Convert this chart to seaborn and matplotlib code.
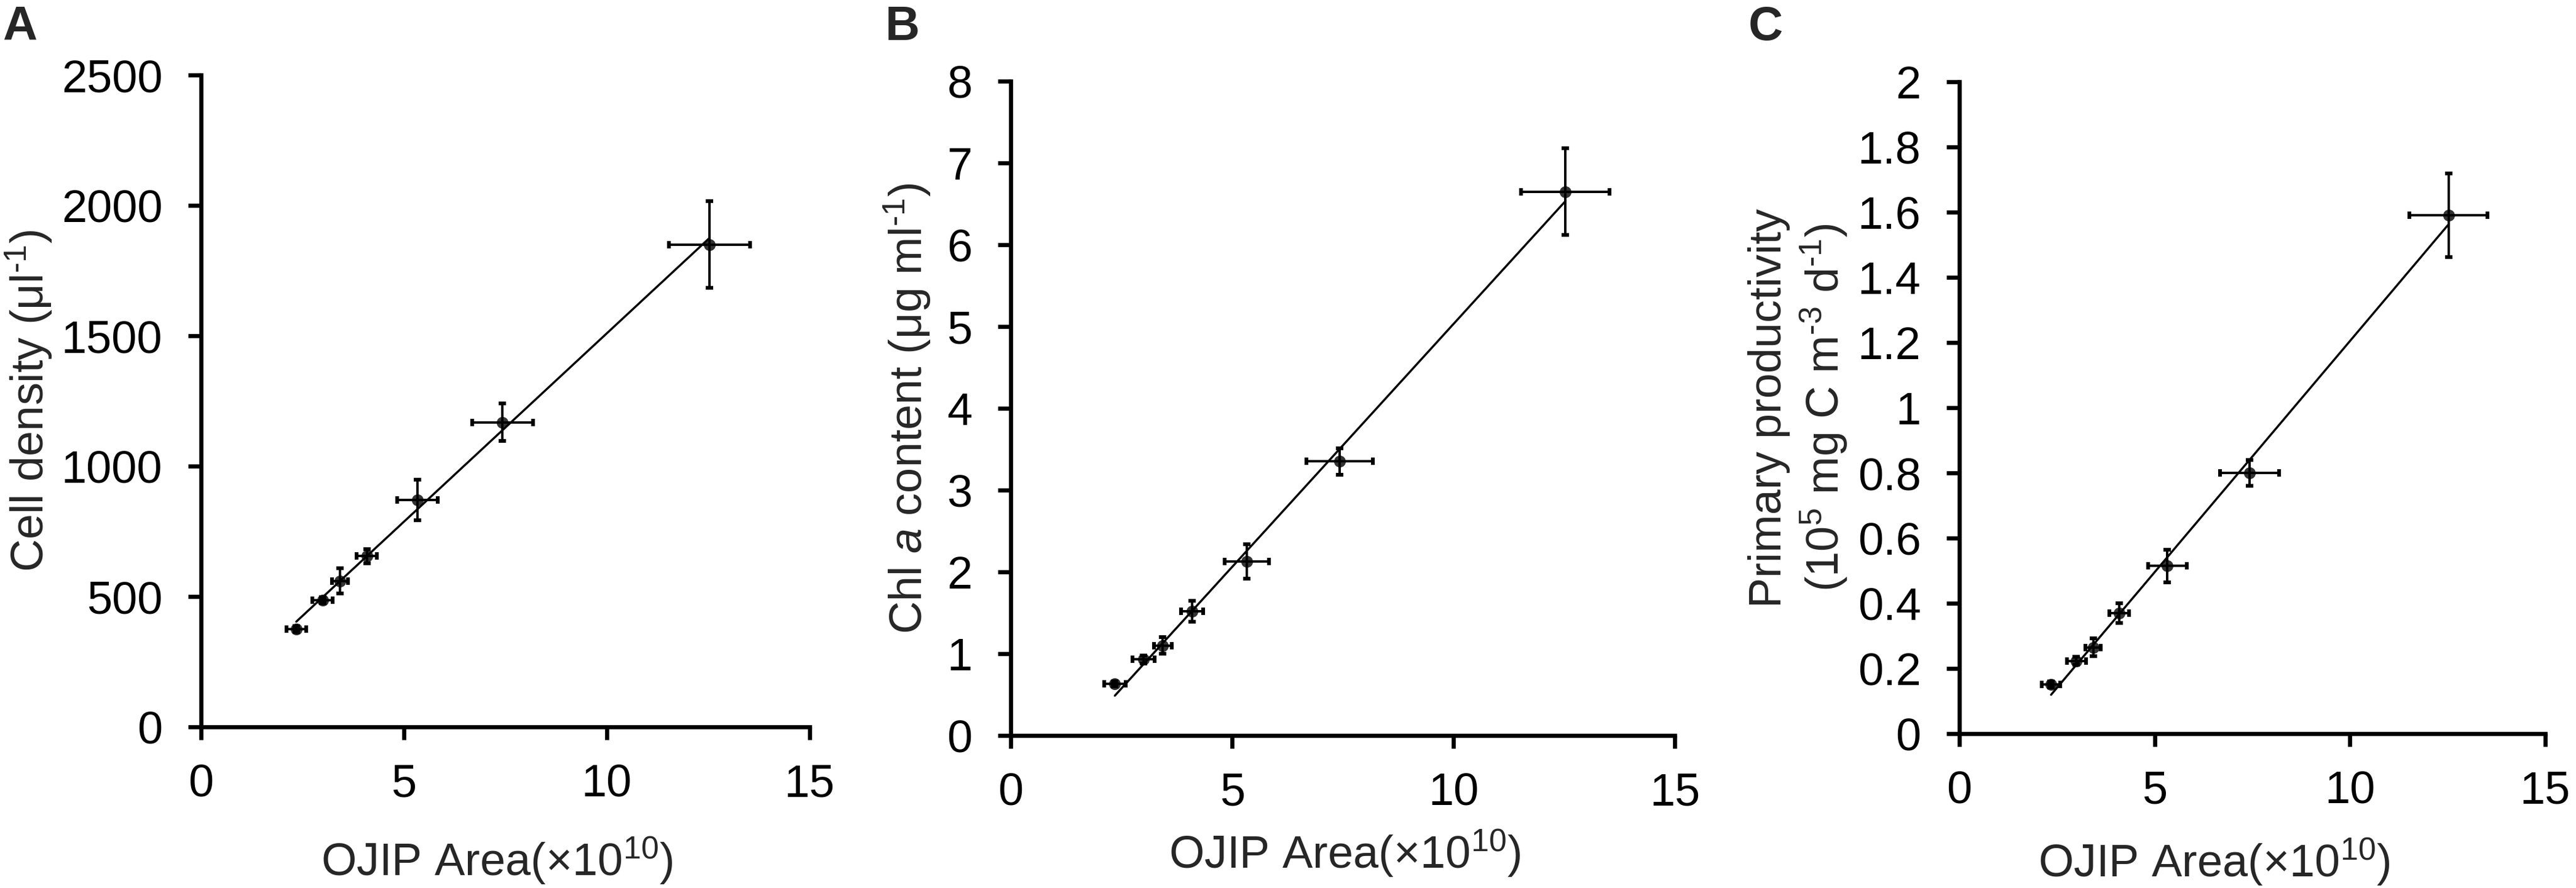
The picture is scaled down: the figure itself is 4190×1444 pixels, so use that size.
import numpy as np
import pandas as pd
import matplotlib
matplotlib.use("Agg")
import matplotlib.pyplot as plt
import seaborn as sns

# OJIP area (x10^10), shared by all three panels
ojip_area = [2.35, 3.0, 3.43, 4.09, 5.33, 7.43, 12.53]
ojip_err = [0.24, 0.25, 0.2, 0.25, 0.5, 0.75, 1.0]

# panel A: cell density (ul-1)
cell_density = [375, 485, 560, 655, 870, 1168, 1850]
cell_density_err = [12, 12, 48, 27, 78, 72, 167]

# panel B: Chl a content (ug ml-1)
chl_a = [0.63, 0.93, 1.10, 1.52, 2.13, 3.35, 6.65]
chl_a_err = [0.03, 0.05, 0.10, 0.13, 0.21, 0.16, 0.53]

# panel C: primary productivity (10^5 mg C m-3 d-1)
productivity = [0.151, 0.223, 0.265, 0.37, 0.515, 0.80, 1.59]
productivity_err = [0.01, 0.012, 0.027, 0.03, 0.05, 0.04, 0.128]

x_ticks = [0, 5, 10, 15]

sns.set_style("ticks")
plt.rcParams['font.family'] = ['Liberation Sans', 'DejaVu Sans']
plt.rcParams['mathtext.fontset'] = 'custom'
plt.rcParams['mathtext.rm'] = 'Liberation Sans'
plt.rcParams['mathtext.it'] = 'Liberation Sans:italic'
plt.rcParams['mathtext.default'] = 'regular'

FS = 26.6

fig = plt.figure(figsize=(20.95, 7.22), dpi=200)

panels = [
    # letter, y values, y errors, y ticks, ylabel, axes rect, ylabel x, xlabel (x, y), letter x
    ("A", cell_density, cell_density_err, [0, 500, 1000, 1500, 2000, 2500],
     "Cell density (μl$^{\\text{-}1}$)",
     [0.0780, 0.1814, 0.2363, 0.7341], -0.241, (0.486, -0.166), 0.001),
    ("B", chl_a, chl_a_err, [0, 1, 2, 3, 4, 5, 6, 7, 8],
     "Chl $\\it{a}$ content (μg ml$^{\\text{-}1}$)",
     [0.3924, 0.1717, 0.2578, 0.7369], -0.118, (0.503, -0.141), 0.3437),
    ("C", productivity, productivity_err, [0, 0.2, 0.4, 0.6, 0.8, 1, 1.2, 1.4, 1.6, 1.8, 2],
     "Primary productivity\n(10$^{5}$ mg C m$^{\\text{-}3}$ d$^{\\text{-}1}$)",
     [0.7606, 0.1738, 0.2274, 0.7341], -0.188, (0.435, -0.158), 0.6788),
]

for letter, yvals, yerrs, yticks, ylabel, rect, ylab_x, xlab_xy, letter_x in panels:
    ax = fig.add_axes(rect)
    df = pd.DataFrame({"x": ojip_area, "y": yvals})
    sns.regplot(data=df, x="x", y="y", ax=ax, ci=None, color="black",
                scatter_kws={"s": 48, "linewidths": 0, "zorder": 3},
                line_kws={"lw": 1.25, "zorder": 2})
    ax.errorbar(ojip_area, yvals, xerr=ojip_err, yerr=yerrs, fmt="none",
                ecolor="black", elinewidth=1.4, capsize=2.0, capthick=2.2, zorder=2)

    ax.set_xlim(0, 15)
    ax.set_ylim(0, yticks[-1])
    ax.set_xticks(x_ticks)
    ax.set_yticks(yticks)
    ax.set_yticklabels([f"{v:g}" for v in yticks])
    sns.despine(ax=ax)
    for s in ["left", "bottom"]:
        ax.spines[s].set_linewidth(2.4)
        ax.spines[s].set_color("black")
    ax.tick_params(axis="both", length=7.5, width=2.4, color="black",
                   labelsize=FS, labelcolor="black")
    ax.tick_params(axis="x", pad=14)
    ax.tick_params(axis="y", pad=15)

    ax.set_xlabel("OJIP Area(×10$^{10}$)", fontsize=FS)
    ax.set_ylabel(ylabel, fontsize=FS, linespacing=1.2)
    ax.xaxis.set_label_coords(*xlab_xy)
    ax.yaxis.set_label_coords(ylab_x, 0.5)

    fig.text(letter_x, 0.9945, letter, fontsize=28, fontweight="bold",
             ha="left", va="top")

fig.savefig("out.png", dpi=200)
